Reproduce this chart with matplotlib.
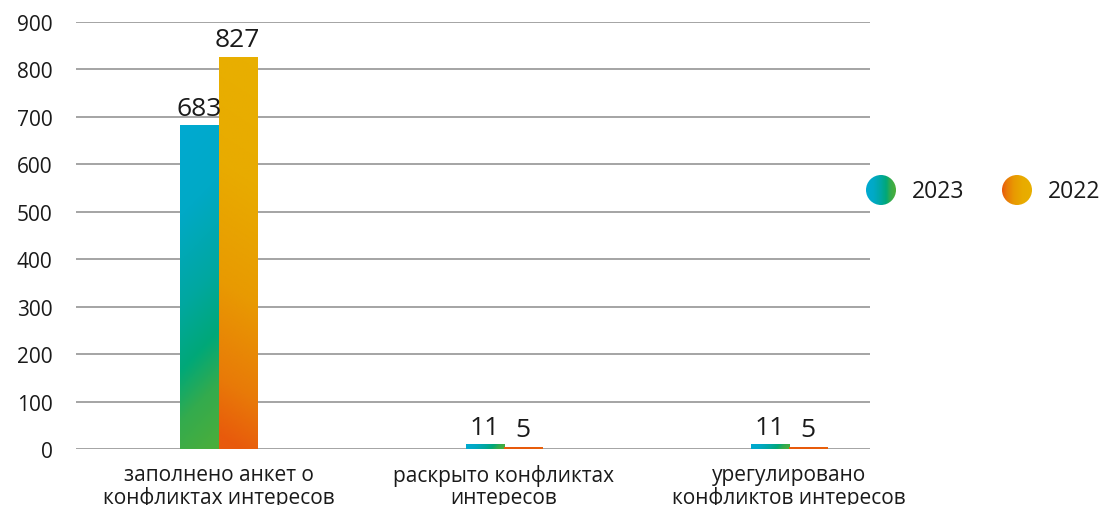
import numpy as np
import matplotlib.pyplot as plt
from matplotlib.colors import LinearSegmentedColormap
from matplotlib.patches import Circle

plt.rcParams['font.family'] = ['Open Sans', 'DejaVu Sans']

categories = ["заполнено анкет о\nконфликтах интересов",
              "раскрыто конфликтах\nинтересов",
              "урегулировано\nконфликтов интересов"]
series_names = ["2023", "2022"]
values_2023 = [683, 11, 11]
values_2022 = [827, 5, 5]
yticks = [0, 100, 200, 300, 400, 500, 600, 700, 800, 900]

# gradient colours (t = 0 bottom, t = 1 top)
cmap_2023 = LinearSegmentedColormap.from_list("c2023", [
    (0.0, "#4CAE3A"), (0.18, "#33AB4E"), (0.32, "#00A878"),
    (0.5, "#00A7A0"), (0.75, "#00A9C6"), (1.0, "#00AAD1")])
cmap_2022 = LinearSegmentedColormap.from_list("c2022", [
    (0.0, "#E85A0C"), (0.15, "#E87A08"), (0.4, "#E89A02"),
    (0.7, "#E8AB00"), (1.0, "#E8AF00")])

fig = plt.figure(figsize=(11.03, 5.06), dpi=100)
ax = fig.add_axes([76 / 1103, 56 / 506, (870 - 76) / 1103, (450 - 23) / 506])

x = np.arange(len(categories))
width = 0.134
bars_a = ax.bar(x - width / 2, values_2023, width, color="none", zorder=3)
bars_b = ax.bar(x + width / 2, values_2022, width, color="none", zorder=3)

ny, nx = 200, 20
vy = np.linspace(0, 1, ny)[:, None]
ux = np.linspace(0, 1, nx)[None, :]

for bar in bars_a:
    x0, y0 = bar.get_x(), bar.get_y()
    w, h = bar.get_width(), bar.get_height()
    hp, wp = h * 0.474, w * 285.5
    t = (vy * hp + (1 - ux) * wp) / (hp + wp)
    im = ax.imshow(t, extent=[x0, x0 + w, y0, y0 + h], origin="lower",
                   cmap=cmap_2023, vmin=0, vmax=1, aspect="auto", zorder=3,
                   interpolation="bilinear")
    im.set_clip_path(bar)

for bar in bars_b:
    x0, y0 = bar.get_x(), bar.get_y()
    w, h = bar.get_width(), bar.get_height()
    t = np.clip(vy * h / max(values_2022) + 0.06 * (ux - 0.5), 0, 1)
    im = ax.imshow(t, extent=[x0, x0 + w, y0, y0 + h], origin="lower",
                   cmap=cmap_2022, vmin=0, vmax=1, aspect="auto", zorder=3,
                   interpolation="bilinear")
    im.set_clip_path(bar)

for bars in (bars_a, bars_b):
    for bar in bars:
        ax.annotate(str(int(bar.get_height())),
                    (bar.get_x() + bar.get_width() / 2, bar.get_height()),
                    xytext=(0, 3), textcoords="offset points",
                    ha="center", va="bottom", fontsize=19, color="#1a1a1a")

ax.set_xlim(-0.5, 2.284)
ax.set_ylim(0, 900)
ax.set_yticks(yticks)
ax.set_xticks(x)
ax.set_xticklabels(categories, fontsize=15, linespacing=1.05, color="#1a1a1a")
ax.tick_params(axis="y", length=0, pad=17, labelsize=15, labelcolor="#1a1a1a")
ax.tick_params(axis="x", length=0, pad=11)
ax.yaxis.grid(True, color="#8c8c8c", linewidth=1.1)
ax.set_axisbelow(True)
for s in ax.spines.values():
    s.set_visible(False)

# legend drawn in pixel coordinates
lax = fig.add_axes([0, 0, 1, 1], zorder=5)
lax.set_xlim(0, 1103)
lax.set_ylim(506, 0)
lax.axis("off")
grad = np.linspace(0, 1, 50)[None, :].repeat(10, axis=0)
leg = [(881, cmap_2023, True), (1017, cmap_2022, False)]
for name, (cx, cm, rev) in zip(series_names, leg):
    g = 1 - grad if rev else grad
    circ = Circle((cx, 191), 15, transform=lax.transData, facecolor="none",
                  edgecolor="none")
    lax.add_patch(circ)
    im = lax.imshow(g, extent=[cx - 15, cx + 15, 206, 176], cmap=cm,
                    vmin=0, vmax=1, aspect="auto", interpolation="bilinear")
    im.set_clip_path(circ)
    lax.text(cx + 31, 192, name, fontsize=16.5, va="center", ha="left",
             color="#1a1a1a")
lax.set_xlim(0, 1103)
lax.set_ylim(506, 0)

fig.savefig("out.png", dpi=100)
